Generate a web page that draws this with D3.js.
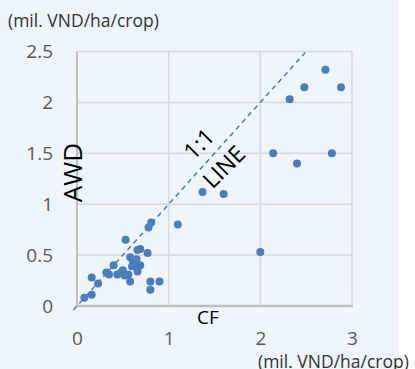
<!DOCTYPE html>
<html>
<head>
<meta charset="utf-8">
<script src="https://cdn.jsdelivr.net/npm/d3@7"></script>
<style>
  body { margin: 0; background: #fff; }
  svg { display: block; font-family: "Open Sans", "Noto Sans", sans-serif; }
</style>
</head>
<body>
<script>
// CF vs AWD (mil. VND/ha/crop)
let cfValues = [2.71, 2.48, 2.88, 2.32, 2.14, 2.40, 2.78, 2.00, 1.60, 1.37,
    1.10, 0.81, 0.78, 0.53, 0.66, 0.69, 0.77, 0.58, 0.61, 0.65,
    0.69, 0.60, 0.66, 0.63, 0.40, 0.32, 0.35, 0.44, 0.50, 0.52,
    0.56, 0.48, 0.58, 0.80, 0.90, 0.80, 0.16, 0.23, 0.16, 0.08];
let awdValues = [2.32, 2.15, 2.15, 2.03, 1.50, 1.40, 1.50, 0.53, 1.10, 1.12,
    0.80, 0.82, 0.77, 0.65, 0.55, 0.56, 0.52, 0.48, 0.44, 0.46,
    0.40, 0.39, 0.34, 0.41, 0.40, 0.33, 0.31, 0.31, 0.35, 0.30,
    0.31, 0.33, 0.24, 0.24, 0.24, 0.16, 0.28, 0.22, 0.11, 0.08];
let xTicks = [0, 1, 2, 3];
let yTicks = [0, 0.5, 1, 1.5, 2, 2.5];
let unitLabel = "(mil. VND/ha/crop)";
let lineLabel = ["1:1", "LINE"];
let refLine = [[-0.04, -0.04], [2.49, 2.49]];

let points = cfValues.map((cf, i) => ({ cf, awd: awdValues[i] }));

let width = 415, height = 369;

let x = d3.scaleLinear([0, 3], [77, 352]);
let y = d3.scaleLinear([0, 2.5], [306, 51.5]);

let svg = d3.select("body")
    .append("svg")
    .attr("width", width)
    .attr("height", height);

// chart background
svg.append("rect")
    .attr("width", 399)
    .attr("height", height)
    .attr("fill", "#eef5fc");

// gridlines
svg.append("g")
    .selectAll("line")
    .data(yTicks.slice(1))
    .join("line")
    .attr("x1", x(0)).attr("x2", x(3))
    .attr("y1", d => y(d)).attr("y2", d => y(d))
    .attr("stroke", "#d9d9d9")
    .attr("stroke-width", 1.5);

svg.append("g")
    .selectAll("line")
    .data(xTicks.slice(1))
    .join("line")
    .attr("x1", d => x(d)).attr("x2", d => x(d))
    .attr("y1", y(0)).attr("y2", y(2.5))
    .attr("stroke", "#d9d9d9")
    .attr("stroke-width", 1.5);

// axis lines
svg.append("line")
    .attr("x1", x(0)).attr("x2", x(0))
    .attr("y1", y(0)).attr("y2", y(2.5))
    .attr("stroke", "#bfbfbf")
    .attr("stroke-width", 2);

svg.append("line")
    .attr("x1", x(0) - 1).attr("x2", x(3) + 1)
    .attr("y1", y(0)).attr("y2", y(0))
    .attr("stroke", "#bfbfbf")
    .attr("stroke-width", 2.5);

// tick labels
let yAxis = svg.append("g")
    .attr("transform", `translate(${x(0)},0)`)
    .call(d3.axisLeft(y).tickValues(yTicks).tickFormat(d => String(d)).tickSize(0).tickPadding(24));

let xAxis = svg.append("g")
    .attr("transform", `translate(0,${y(0)})`)
    .call(d3.axisBottom(x).tickValues(xTicks).tickFormat(d => String(d)).tickSize(0));

[yAxis, xAxis].forEach(g => {
    g.select(".domain").remove();
    g.selectAll("text")
        .attr("fill", "#595959")
        .style("font-size", "19px")
        .style("font-family", "\"Open Sans\", sans-serif");
});
xAxis.selectAll("text").attr("y", 39).attr("dy", null);

// 1:1 line
svg.append("path")
    .attr("d", d3.line().x(d => x(d[0])).y(d => y(d[1]))(refLine))
    .attr("fill", "none")
    .attr("stroke", "#4a7ebb")
    .attr("stroke-width", 1.5)
    .attr("stroke-dasharray", "5,4");

// points
svg.append("g")
    .selectAll("circle")
    .data(points)
    .join("circle")
    .attr("cx", d => x(d.cf))
    .attr("cy", d => y(d.awd))
    .attr("r", 4)
    .attr("fill", "#4a7ebb");

// unit labels
svg.append("text")
    .attr("x", 8)
    .attr("y", 27)
    .attr("fill", "#333")
    .style("font-size", "17.5px")
    .text(unitLabel);

svg.append("text")
    .attr("x", 258)
    .attr("y", 368)
    .attr("fill", "#333")
    .style("font-size", "17.5px")
    .text(unitLabel);

// axis titles
svg.append("text")
    .attr("transform", "translate(81.5,172.5) rotate(-90)")
    .attr("text-anchor", "middle")
    .attr("fill", "#000")
    .style("font-size", "26px")
    .text("AWD");

svg.append("text")
    .attr("x", 208)
    .attr("y", 324)
    .attr("text-anchor", "middle")
    .attr("fill", "#000")
    .style("font-size", "19px")
    .text("CF");

// line label
svg.append("g")
    .selectAll("text")
    .data(lineLabel)
    .join("text")
    .attr("transform", (d, i) => i == 0 ? "translate(199,144) rotate(-45)" : "translate(224,167) rotate(-45)")
    .attr("text-anchor", "middle")
    .attr("dy", "0.35em")
    .attr("fill", "#000")
    .style("font-size", "23px")
    .text(d => d);
</script>
</body>
</html>
